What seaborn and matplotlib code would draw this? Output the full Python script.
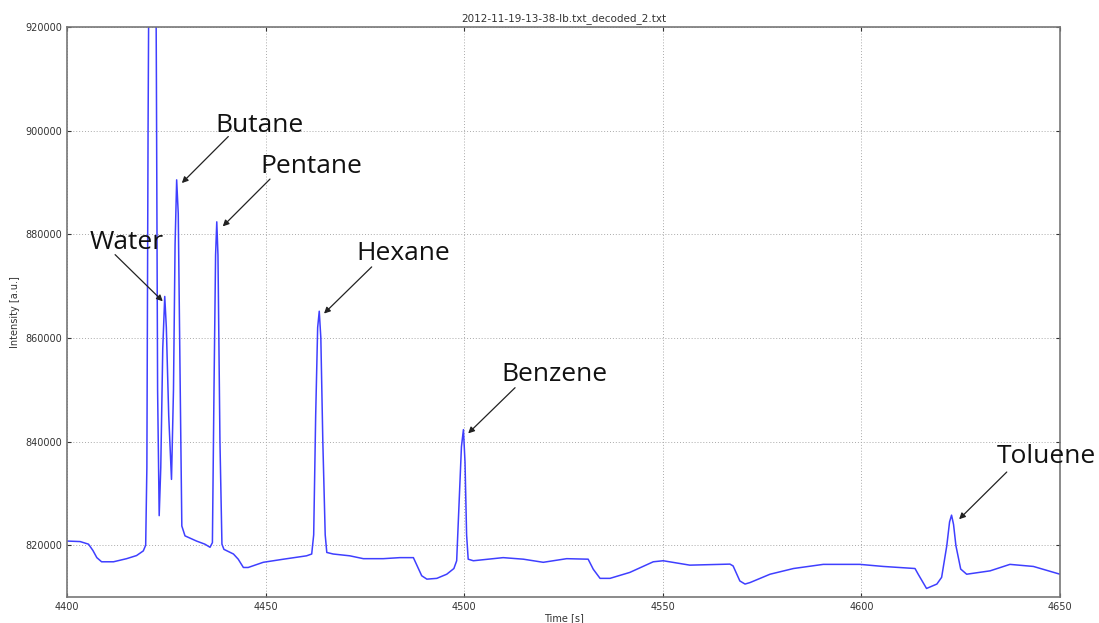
import matplotlib
matplotlib.use("Agg")
import matplotlib.pyplot as plt
import seaborn as sns
import pandas as pd
from matplotlib.ticker import ScalarFormatter

# ---- data ----
time_s = [4400.0, 4403.3, 4405.4, 4406.5, 4407.5, 4408.7, 4411.7, 4415.0, 4417.5, 4419.2,
          4419.8, 4420.1, 4420.4, 4420.8, 4421.5, 4422.2, 4422.5, 4422.8, 4423.2, 4423.6,
          4424.1, 4424.6, 4425.0, 4425.6, 4426.3, 4426.8, 4427.2, 4427.6, 4428.0, 4428.5,
          4428.9, 4429.7, 4432.6, 4434.7, 4436.0, 4436.6, 4437.0, 4437.4, 4437.7, 4438.0,
          4438.5, 4439.0, 4439.5, 4441.9, 4443.1, 4444.4, 4445.6, 4449.4, 4454.5, 4460.3,
          4461.6, 4462.1, 4462.6, 4463.1, 4463.5, 4463.9, 4464.4, 4465.0, 4465.4, 4467.0,
          4471.2, 4474.6, 4479.6, 4483.8, 4487.2, 4489.3, 4490.6, 4493.1, 4495.6, 4497.4,
          4498.1, 4498.7, 4499.3, 4499.8, 4500.2, 4500.6, 4501.0, 4502.3, 4509.8, 4514.9,
          4519.9, 4525.8, 4531.2, 4532.5, 4534.2, 4536.7, 4541.7, 4547.6, 4550.1, 4556.8,
          4566.9, 4567.7, 4569.4, 4570.7, 4572.0, 4577.0, 4582.9, 4590.4, 4599.6, 4605.5,
          4613.5, 4614.3, 4616.4, 4619.0, 4620.2, 4621.5, 4622.2, 4622.7, 4623.2, 4623.8,
          4625.0, 4626.5, 4632.4, 4637.4, 4643.3, 4650.0]
intensity = [820800, 820700, 820200, 819000, 817600, 816800, 816800, 817400, 818000, 818900,
             820000, 835000, 900000, 960000, 990000, 960000, 910000, 850000, 825700, 835000,
             858000, 868000, 862000, 845000, 832700, 850000, 878000, 890500, 884000, 850000,
             823700, 821800, 820800, 820200, 819600, 820500, 850000, 876000, 882400, 876000,
             840000, 820200, 819200, 818300, 817300, 815700, 815700, 816700, 817300, 817950,
             818300, 822000, 845000, 862000, 865150, 860000, 840000, 822000, 818600, 818300,
             817950, 817400, 817400, 817600, 817600, 814100, 813450, 813600, 814400, 815500,
             817000, 828000, 839000, 842300, 836000, 822000, 817300, 817000, 817600, 817300,
             816700, 817400, 817300, 815350, 813600, 813600, 814750, 816800, 817000, 816150,
             816350, 816000, 813100, 812500, 812800, 814400, 815500, 816300, 816300, 815900,
             815500, 814400, 811650, 812500, 813800, 819900, 824500, 825800, 824000, 819900,
             815400, 814400, 815050, 816300, 815900, 814400]

labels = ["Water", "Butane", "Pentane", "Hexane", "Benzene", "Toluene"]
# arrow tips (peak marks)
tip_t = [4424.1, 4428.9, 4439.2, 4464.7, 4501.0, 4624.6]
tip_i = [867070, 889880, 881520, 864700, 841580, 825010]
# arrow tails
tail_t = [4412.1, 4440.6, 4451.1, 4476.7, 4512.8, 4636.6]
tail_i = [876070, 898860, 890650, 873700, 850390, 834120]
# label text anchor (left, baseline)
text_t = [4405.8, 4437.3, 4448.6, 4472.9, 4509.4, 4634.1]
text_i = [877170, 899830, 891870, 874970, 851660, 835930]

title = "2012-11-19-13-38-lb.txt_decoded_2.txt"
x_ticks = [4400, 4450, 4500, 4550, 4600, 4650]
y_ticks = [820000, 840000, 860000, 880000, 900000, 920000]

df = pd.DataFrame({"Time [s]": time_s, "Intensity [a.u.]": intensity})

sns.set_style("white")
plt.rcParams["font.family"] = ["DejaVu Sans"]

fig = plt.figure(figsize=(10.99, 6.23), dpi=100)
ax = fig.add_axes([0.061, 0.0417, 0.9035, 0.915])

sns.lineplot(data=df, x="Time [s]", y="Intensity [a.u.]", ax=ax, estimator=None,
             sort=False, color="#3f3fff", linewidth=1.1)

ax.set_xlim(4400, 4650)
ax.set_ylim(810000, 920000)
ax.set_xticks(x_ticks)
ax.set_yticks(y_ticks)
fmt = ScalarFormatter(useOffset=False)
fmt.set_scientific(False)
ax.yaxis.set_major_formatter(fmt)
ax.grid(True, linestyle=(0, (1, 2)), color="#aaaaaa", linewidth=0.7)
ax.tick_params(direction="in", length=3, labelsize=7, colors="#333333",
               top=True, right=True, bottom=True, left=True)
for s in ax.spines.values():
    s.set_color("#777777")
    s.set_linewidth(1.2)

ax.set_xlabel("Time [s]", fontsize=7, color="#333333", labelpad=1)
ax.set_ylabel("Intensity [a.u.]", fontsize=7, color="#333333", labelpad=4)
ax.set_title(title, fontsize=7.5, color="#333333", pad=4)

for lab, pt, pi, at, ai, tt, ti in zip(labels, tip_t, tip_i, tail_t, tail_i, text_t, text_i):
    ax.text(tt, ti, lab, ha="left", va="baseline", fontsize=19,
            family=["Open Sans", "DejaVu Sans"], color="#111111")
    ax.annotate("", xy=(pt, pi), xytext=(at, ai),
                arrowprops=dict(arrowstyle="-|>", color="#222222", lw=0.9,
                                mutation_scale=9, shrinkA=0, shrinkB=0))

fig.savefig("out.png", dpi=100)
